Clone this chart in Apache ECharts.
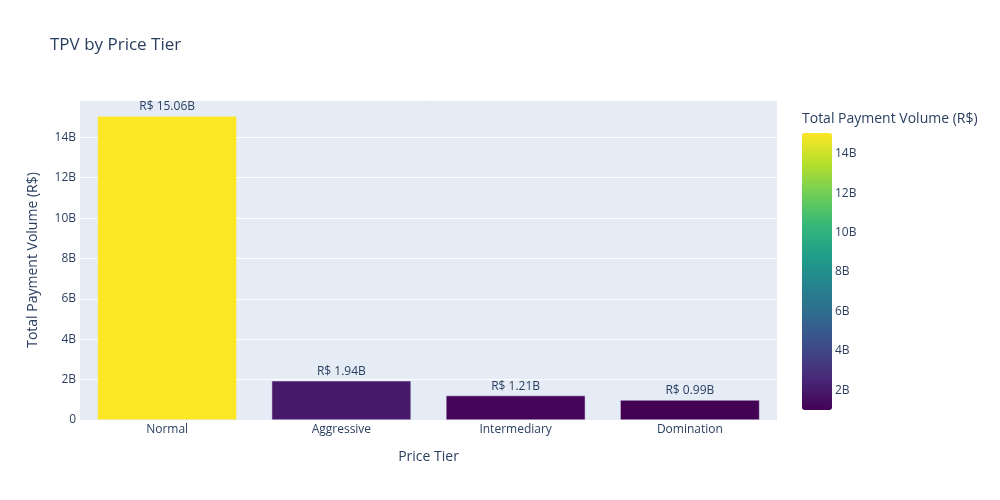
<!DOCTYPE html>
<html>
<head>
<meta charset="utf-8">
<script src="https://cdn.jsdelivr.net/npm/echarts@6/dist/echarts.min.js"></script>
<style>
  html, body { margin: 0; padding: 0; background: #fff; }
  #chart { width: 1000px; height: 500px; }
</style>
</head>
<body>
<div id="chart"></div>
<script>
// values in billions of R$
var tiers = ['Normal', 'Aggressive', 'Intermediary', 'Domination'];
var tpv = [15.06, 1.94, 1.21, 0.99];
var viridis = ['#440154', '#482878', '#3e4989', '#31688e', '#26828e',
               '#1f9e89', '#35b779', '#6ece58', '#b5de2b', '#fde725'];

var fontFamily = '"Open Sans", "Noto Sans", sans-serif';
var textColor = '#2a3f5f';

var tpvMin = Math.min.apply(null, tpv);
var tpvMax = Math.max.apply(null, tpv);

function billions(v) {
    if (v === 0) return '0';
    return v + 'B';
}

var myChart = echarts.init(document.getElementById('chart'));

var option = {
    animation: false,
    textStyle: { fontFamily: fontFamily },
    title: [
        {
            text: 'TPV by Price Tier',
            left: 50,
            top: 37,
            padding: 0,
            textStyle: { fontSize: 17, fontWeight: 'normal', color: textColor, fontFamily: fontFamily }
        },
        {
            text: 'Total Payment Volume (R$)',
            left: 802,
            top: 112,
            padding: 0,
            textStyle: { fontSize: 14, fontWeight: 'normal', color: textColor, fontFamily: fontFamily }
        }
    ],
    grid: [
        {
            left: 80,
            right: 223,
            top: 100,
            bottom: 80,
            show: true,
            backgroundColor: '#e5ecf6',
            borderWidth: 0
        },
        {
            // invisible grid used only for the colorbar tick labels
            left: 832,
            width: 1,
            top: 133,
            height: 277 * tpvMax / (tpvMax - tpvMin),
            show: false
        }
    ],
    visualMap: {
        type: 'continuous',
        seriesIndex: 0,
        min: tpvMin,
        max: tpvMax,
        dimension: 1,
        calculable: false,
        left: 802,
        top: 133,
        padding: 0,
        itemWidth: 30,
        itemHeight: 277,
        text: ['', ''],
        showLabel: false,
        inRange: { color: viridis }
    },
    xAxis: [
        {
            type: 'category',
            gridIndex: 0,
            data: tiers,
            name: 'Price Tier',
            nameLocation: 'middle',
            nameGap: 30,
            nameTextStyle: { fontSize: 14, color: textColor },
            axisLine: { show: false },
            axisTick: { show: false },
            axisLabel: { color: textColor, fontSize: 12, margin: 4 },
            splitLine: { show: false }
        },
        {
            type: 'value',
            gridIndex: 1,
            show: false
        }
    ],
    yAxis: [
        {
            type: 'value',
            gridIndex: 0,
            min: 0,
            max: 15.85,
            interval: 2,
            name: 'Total Payment Volume (R$)',
            nameLocation: 'middle',
            nameGap: 40,
            nameTextStyle: { fontSize: 14, color: textColor },
            axisLine: { show: false },
            axisTick: { show: false },
            axisLabel: { color: textColor, fontSize: 12, margin: 4, showMaxLabel: false, formatter: billions },
            splitLine: { lineStyle: { color: '#ffffff', width: 1 } }
        },
        {
            type: 'value',
            gridIndex: 1,
            min: 0,
            max: tpvMax,
            interval: 2,
            axisLine: { show: false },
            axisTick: { show: false },
            splitLine: { show: false },
            axisLabel: {
                inside: true,
                color: textColor,
                fontSize: 12,
                margin: 3,
                showMaxLabel: false,
                formatter: function (v) { return v === 0 ? '' : billions(v); }
            }
        }
    ],
    series: [
        {
            type: 'bar',
            xAxisIndex: 0,
            yAxisIndex: 0,
            data: tpv,
            barCategoryGap: '20%',
            itemStyle: { borderColor: '#e5ecf6', borderWidth: 0.5 },
            label: {
                show: true,
                position: 'top',
                distance: 3,
                color: textColor,
                fontSize: 12,
                formatter: function (p) { return 'R$ ' + p.value.toFixed(2) + 'B'; }
            }
        }
    ]
};

myChart.setOption(option);
</script>
</body>
</html>
